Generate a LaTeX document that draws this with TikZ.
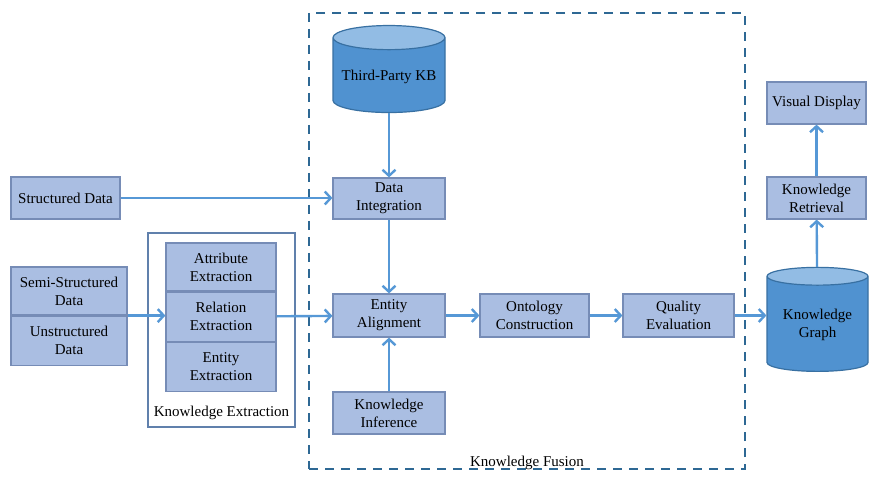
\documentclass[tikz,border=0pt]{standalone}
\usepackage{fontspec}
\setmainfont{Liberation Serif}
\usetikzlibrary{shapes.geometric,arrows.meta,positioning}
\definecolor{myboxfill}{RGB}{170,190,226}
\definecolor{myboxline}{RGB}{118,140,182}
\definecolor{mydbfill}{RGB}{80,146,208}
\definecolor{mydbtop}{RGB}{146,188,228}
\definecolor{mydbline}{RGB}{56,112,162}
\definecolor{myframe}{RGB}{96,128,172}
\definecolor{myarrow}{RGB}{86,152,214}
\definecolor{mydash}{RGB}{46,104,148}

\tikzset{
  box/.style={draw=myboxline, fill=myboxfill, line width=1.2pt, minimum width=112pt,
    minimum height=42pt, align=center, inner sep=1pt},
  db/.style={cylinder, shape border rotate=90, aspect=0.25, draw=mydbline, line width=1.2pt,
    cylinder uses custom fill, cylinder body fill=mydbfill, cylinder end fill=mydbtop,
    align=center, inner sep=1pt},
  flow/.style={myarrow, line width=2.4pt, -{Straight Barb[length=6pt,width=13pt]}}
}

\begin{document}
\begin{tikzpicture}[x=1pt, y=-1pt, font=\fontsize{15}{18}\selectfont]
  \useasboundingbox[fill=white] (0,0) rectangle (870,478);

  % knowledge fusion frame
  \node[draw=mydash, dash pattern=on 9pt off 7pt, line width=2.4pt,
    minimum width=436pt, minimum height=456pt] (fusion) at (527,241) {};
  \node (fusionlabel) at (527,463) {Knowledge Fusion};

  % knowledge extraction frame
  \node[draw=myframe, line width=1.2pt, minimum width=147pt, minimum height=194pt]
    (extract) at (221.5,330) {};
  \node (extractlabel) at (221.5,413) {Knowledge Extraction};

  % sources
  \node[box, minimum width=109pt] (sd) at (65.5,198) {Structured Data};
  \node[box, minimum width=116pt, minimum height=48pt] (semi) at (69,291) {Semi-Structured\\Data};
  \node[box, minimum width=116pt, minimum height=49pt, below=0pt of semi] (unst) {Unstructured\\Data};

  % extraction
  \node[box, minimum width=110pt, minimum height=48pt] (attr) at (221,267) {Attribute\\Extraction};
  \node[box, minimum width=110pt, minimum height=49pt, below=0pt of attr] (rel) {Relation\\Extraction};
  \node[box, minimum width=110pt, minimum height=49pt, below=0pt of rel] (ent) {Entity\\Extraction};

  % fusion
  \node[db, minimum width=112pt, minimum height=87pt] (kb) at (389,76.5) {Third-Party KB};
  \node[box, minimum height=41pt] (di) at (389,198.5) {Data\\Integration};
  \node[box, minimum height=43pt] (ea) at (389,315.5) {Entity\\Alignment};
  \node[box, minimum width=109pt, minimum height=43pt] (oc) at (534.5,315.5) {Ontology\\Construction};
  \node[box, minimum width=111pt, minimum height=43pt] (qe) at (678.5,315.5) {Quality\\Evaluation};
  \node[box] (ki) at (389,413) {Knowledge\\Inference};

  % output
  \node[db, minimum width=101pt, minimum height=104pt] (kg) at (817.5,325) {Knowledge\\Graph};
  \node[box, minimum width=99pt] (kr) at (816.5,198) {Knowledge\\Retrieval};
  \node[box, minimum width=99pt] (vd) at (816.5,103) {Visual Display};

  \draw[flow] (sd) -- (sd -| di.west);
  \draw[flow] (semi.south east) -- (semi.south east -| rel.west);
  \draw[flow] (rel) -- (ea);
  \draw[flow] (kb) -- (di);
  \draw[flow] (di) -- (ea);
  \draw[flow] (ki) -- (ea);
  \draw[flow] (ea) -- (oc);
  \draw[flow] (oc) -- (qe);
  \draw[flow] (qe.east) -- (qe.east -| kg.west);
  \draw[flow] (kg) -- (kr);
  \draw[flow] (kr) -- (vd);
\end{tikzpicture}
\end{document}
